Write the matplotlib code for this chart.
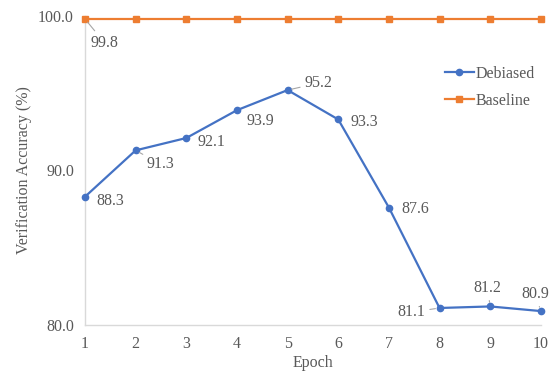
import numpy as np
import matplotlib
matplotlib.use("Agg")
import matplotlib.pyplot as plt

# data
epochs = [1, 2, 3, 4, 5, 6, 7, 8, 9, 10]
debiased = [88.3, 91.3, 92.1, 93.9, 95.2, 93.3, 87.6, 81.1, 81.2, 80.9]
baseline = [99.8, 99.8, 99.8, 99.8, 99.8, 99.8, 99.8, 99.8, 99.8, 99.8]

# label offsets in points (dx, dy) and whether a leader line is drawn
deb_offsets = [(18, -3), (18, -10), (18, -3), (17, -8), (22, 5),
               (19, -2), (19, -1), (-20, -3), (-2, 13), (-4, 12)]
deb_leader = [False, True, False, False, True, False, False, True, True, True]

txt = "#595959"
blue = "#4472C4"
orange = "#ED7D31"

plt.rcParams['font.family'] = ['Liberation Serif', 'DejaVu Serif']

fig = plt.figure(figsize=(5.57, 3.79), dpi=100)
ax = fig.add_axes([0.1526, 0.1425, 0.8184, 0.8155])

ax.plot(epochs, debiased, color=blue, lw=1.6, marker='o', ms=4.5,
        label="Debiased", clip_on=False, zorder=3)
ax.plot(epochs, baseline, color=orange, lw=1.6, marker='s', ms=5,
        label="Baseline", clip_on=False, zorder=3)

ax.set_xlim(1, 10)
ax.set_ylim(80, 100)
ax.set_xticks(epochs)
ax.set_yticks([80, 90, 100])
ax.set_yticklabels(["80.0", "90.0", "100.0"])
ax.tick_params(axis='both', length=0, labelsize=11.5, colors=txt, pad=8)

for s in ["top", "right"]:
    ax.spines[s].set_visible(False)
for s in ["left", "bottom"]:
    ax.spines[s].set_color("#D9D9D9")
    ax.spines[s].set_linewidth(1.0)

ax.set_xlabel("Epoch", fontsize=11.5, color=txt, labelpad=2)
ax.set_ylabel("Verification Accuracy (%)", fontsize=11.5, color=txt, labelpad=4)

lead_style = dict(arrowstyle='-', color="#A6A6A6", lw=0.8, shrinkA=1, shrinkB=3)

for x, y, (dx, dy), lead in zip(epochs, debiased, deb_offsets, deb_leader):
    ax.annotate(f"{y:.1f}", (x, y), xytext=(dx, dy), textcoords='offset points',
                ha='center', va='center', fontsize=11.5, color=txt,
                arrowprops=lead_style if lead else None, annotation_clip=False)

ax.annotate(f"{baseline[0]:.1f}", (epochs[0], baseline[0]), xytext=(14, -17),
            textcoords='offset points', ha='center', va='center', fontsize=11.5,
            color=txt, arrowprops=lead_style, annotation_clip=False)

leg = ax.legend(loc='upper right', bbox_to_anchor=(1.0, 0.86), frameon=False,
                fontsize=11.5, handlelength=1.8, handletextpad=0.1,
                labelspacing=0.7, borderaxespad=0)
for t in leg.get_texts():
    t.set_color(txt)

fig.savefig("out.png", dpi=100)
